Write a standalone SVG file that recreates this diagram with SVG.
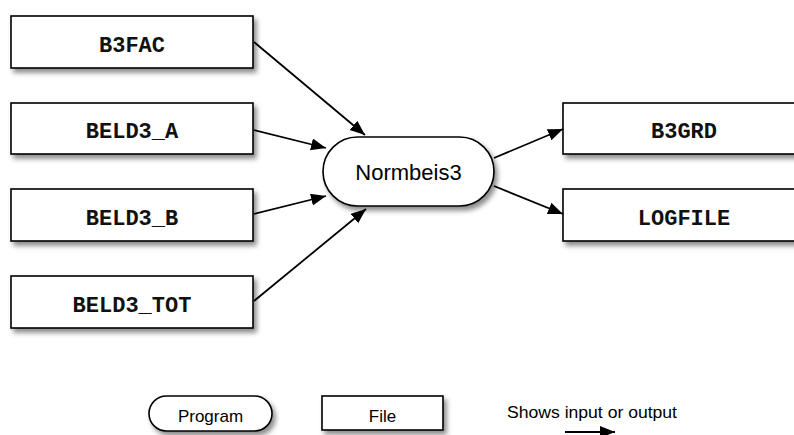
<svg xmlns="http://www.w3.org/2000/svg" width="794" height="435" viewBox="0 0 794 435">
  <defs>
    <filter id="sh" x="-10%" y="-20%" width="130%" height="160%">
      <feDropShadow dx="3" dy="4" stdDeviation="2.5" flood-color="#000" flood-opacity="0.45"/>
    </filter>
    <marker id="arr" markerUnits="userSpaceOnUse" markerWidth="16" markerHeight="14" refX="15" refY="6" orient="auto">
      <path d="M0,0 L15,6 L0,12 z" fill="#000"/>
    </marker>
  </defs>
  <style>
    .file { fill: #fff; stroke: #000; stroke-width: 1.6; filter: url(#sh); }
    .prog { fill: #fff; stroke: #000; stroke-width: 1.6; filter: url(#sh); }
    .ft { font-family: "Liberation Mono", "Courier New", monospace; font-weight: bold; font-size: 22px; text-anchor: middle; fill: #111; }
    .pt { font-family: "Liberation Sans", Arial, sans-serif; font-size: 22px; text-anchor: middle; fill: #000; }
    .lt { font-family: "Liberation Sans", Arial, sans-serif; font-size: 17px; text-anchor: middle; fill: #000; }
    .conn line { stroke: #000; stroke-width: 1.8; marker-end: url(#arr); }
  </style>
  <rect width="794" height="435" fill="#fff"/>

  <g id="B3FAC"><rect class="file" x="11" y="16" width="242" height="52"/><text class="ft" x="132" y="52">B3FAC</text></g>
  <g id="BELD3_A"><rect class="file" x="11" y="103" width="242" height="51"/><text class="ft" x="132" y="138">BELD3_A</text></g>
  <g id="BELD3_B"><rect class="file" x="11" y="189" width="242" height="52"/><text class="ft" x="132" y="225">BELD3_B</text></g>
  <g id="BELD3_TOT"><rect class="file" x="11" y="276" width="242" height="52"/><text class="ft" x="132" y="312">BELD3_TOT</text></g>

  <g id="Normbeis3"><rect class="prog" x="323" y="137" width="171" height="69" rx="34.5"/><text class="pt" x="408.5" y="180">Normbeis3</text></g>

  <g id="B3GRD"><rect class="file" x="563" y="103" width="242" height="51"/><text class="ft" x="684" y="138">B3GRD</text></g>
  <g id="LOGFILE"><rect class="file" x="563" y="189" width="242" height="52"/><text class="ft" x="684" y="225">LOGFILE</text></g>

  <g id="connectors" class="conn">
    <line x1="254" y1="42" x2="365" y2="135"/>
    <line x1="254" y1="130" x2="326" y2="148"/>
    <line x1="254" y1="214" x2="326" y2="196"/>
    <line x1="254" y1="301" x2="366" y2="209"/>
    <line x1="494" y1="158" x2="563" y2="129"/>
    <line x1="494" y1="186" x2="563" y2="214"/>
  </g>

  <g id="legend">
    <g id="legend-program"><rect class="prog" x="149" y="396" width="123" height="35" rx="17.5"/><text class="lt" x="210.5" y="422">Program</text></g>
    <g id="legend-file"><rect class="file" x="322" y="396" width="121" height="34"/><text class="lt" x="382.5" y="422">File</text></g>
    <text x="507" y="418" font-family="Liberation Sans, Arial, sans-serif" font-size="16" textLength="170" lengthAdjust="spacingAndGlyphs">Shows input or output</text>
    <g class="conn"><line x1="565" y1="432" x2="615" y2="432"/></g>
  </g>
</svg>
